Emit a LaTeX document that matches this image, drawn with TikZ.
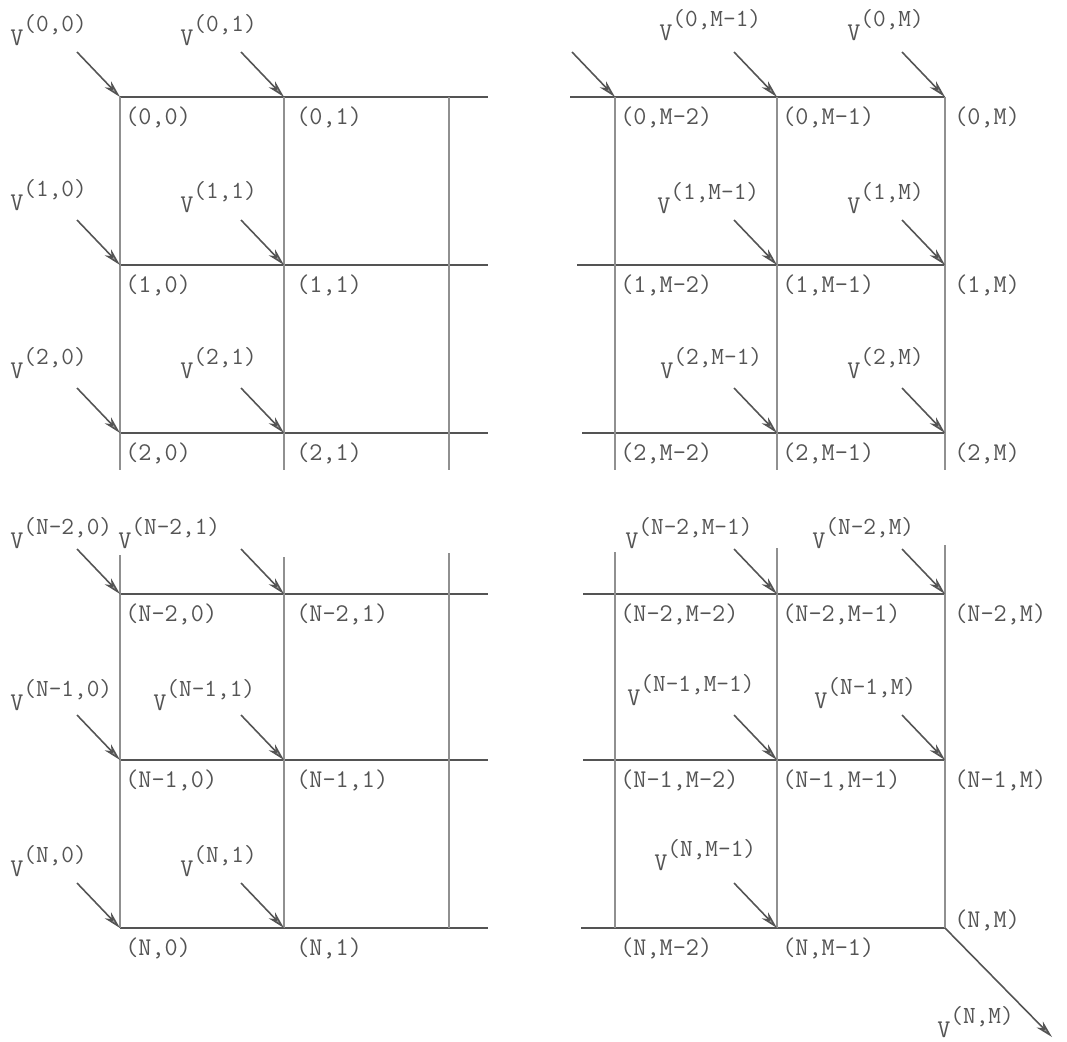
\documentclass[tikz,border=0pt]{standalone}
\usepackage{tikz}
\usetikzlibrary{arrows.meta,calc}
\definecolor{ink}{gray}{0.33}
\tikzset{
  grid-h/.style={draw=ink, line width=1.1pt},
  grid-v/.style={draw=ink!65, line width=0.6pt},
  grid-in/.style={draw=ink, line width=0.9pt,
    -{Stealth[length=10pt,width=5pt,inset=3pt,fill=ink!55]}},
  grid-pt/.style={font=\fontsize{14.5}{16}\selectfont\ttfamily, text=ink,
    inner sep=0pt, anchor=west},
  grid-vlab/.style={font=\fontsize{14.5}{16}\selectfont\ttfamily, text=ink,
    inner sep=0pt, anchor=base west}
}
\newcommand{\vsup}[1]{V\raisebox{7.5pt}{\fontsize{14}{16}\selectfont(#1)}}

\begin{document}
\begin{tikzpicture}[x=0.02cm, y=-0.02cm]
  \useasboundingbox (0,0) rectangle (1067,1041);
  % grid points: rows 0,1,2,N-2,N-1,N / columns 0,1,2,M-2,M-1,M
  \foreach \row/\y in {0/97,1/265,2/433,3/594,4/760,5/928}
    \foreach \col/\x in {0/120,1/284,2/449,3/615,4/777,5/945}
      \coordinate (p\row\col) at (\x,\y);

  % horizontal lines
  \foreach \row in {0,...,5}
    \draw[grid-h] (p\row0) -- ++(368,0);
  \foreach \row/\d in {0/375,1/368,2/363,3/362,4/362,5/364}
    \draw[grid-h] (p\row5) -- ++(-\d,0);

  % vertical lines
  \foreach \col in {0,...,5}
    \draw[grid-v] (p0\col) -- ++(0,373);
  \foreach \col/\t in {0/39,1/37,2/41,3/42,4/46,5/49}
    \draw[grid-v] (p3\col) ++(0,-\t) -- (p5\col);

  % incoming vectors
  \foreach \p in {00,01,10,11,20,21,30,31,40,41,50,51,03,04,05,14,15,24,25,34,35,44,45,54}{
    \coordinate (s\p) at ($(p\p)+(-43,-45)$);
    \draw[grid-in] (s\p) -- (p\p);
  }
  \coordinate (sout) at (1052,1037);
  \draw[grid-in] (p55) -- (sout);

  % vector labels
  \foreach \n/\x/\y/\txt in {
      00/10/45/{0,0}, 01/180/45/{0,1},
      10/10/210/{1,0}, 11/180/212/{1,1},
      20/10/378/{2,0}, 21/180/378/{2,1},
      30/10/548/{N-2,0}, 31/118/548/{N-2,1},
      40/10/710/{N-1,0}, 41/153/710/{N-1,1},
      50/10/876/{N,0}, 51/180/876/{N,1},
      04/659/40/{0,M-1}, 05/847/40/{0,M},
      14/657/213/{1,M-1}, 15/847/213/{1,M},
      24/660/378/{2,M-1}, 25/847/378/{2,M},
      34/625/548/{N-2,M-1}, 35/812/548/{N-2,M},
      44/627/705/{N-1,M-1}, 45/814/708/{N-1,M},
      54/654/870/{N,M-1}, 55/937/1037/{N,M}}
    \node[grid-vlab] (v\n) at (\x,\y) {\vsup{\txt}};

  % point labels
  \foreach \row/\rl in {0/0,1/1,2/2,3/N-2,4/N-1,5/N}
    \foreach \col/\cl/\dx in {0/0/5,1/1/12,3/M-2/5,4/M-1/5}
      \node[grid-pt] (q\row\col) at ($(p\row\col)+(\dx,20)$) {(\rl,\cl)};
  \foreach \row/\rl/\dy in {0/0/20,1/1/20,2/2/20,3/N-2/20,4/N-1/20,5/N/-8}
    \node[grid-pt] (q\row5) at ($(p\row5)+(9,\dy)$) {(\rl,M)};
\end{tikzpicture}
\end{document}
